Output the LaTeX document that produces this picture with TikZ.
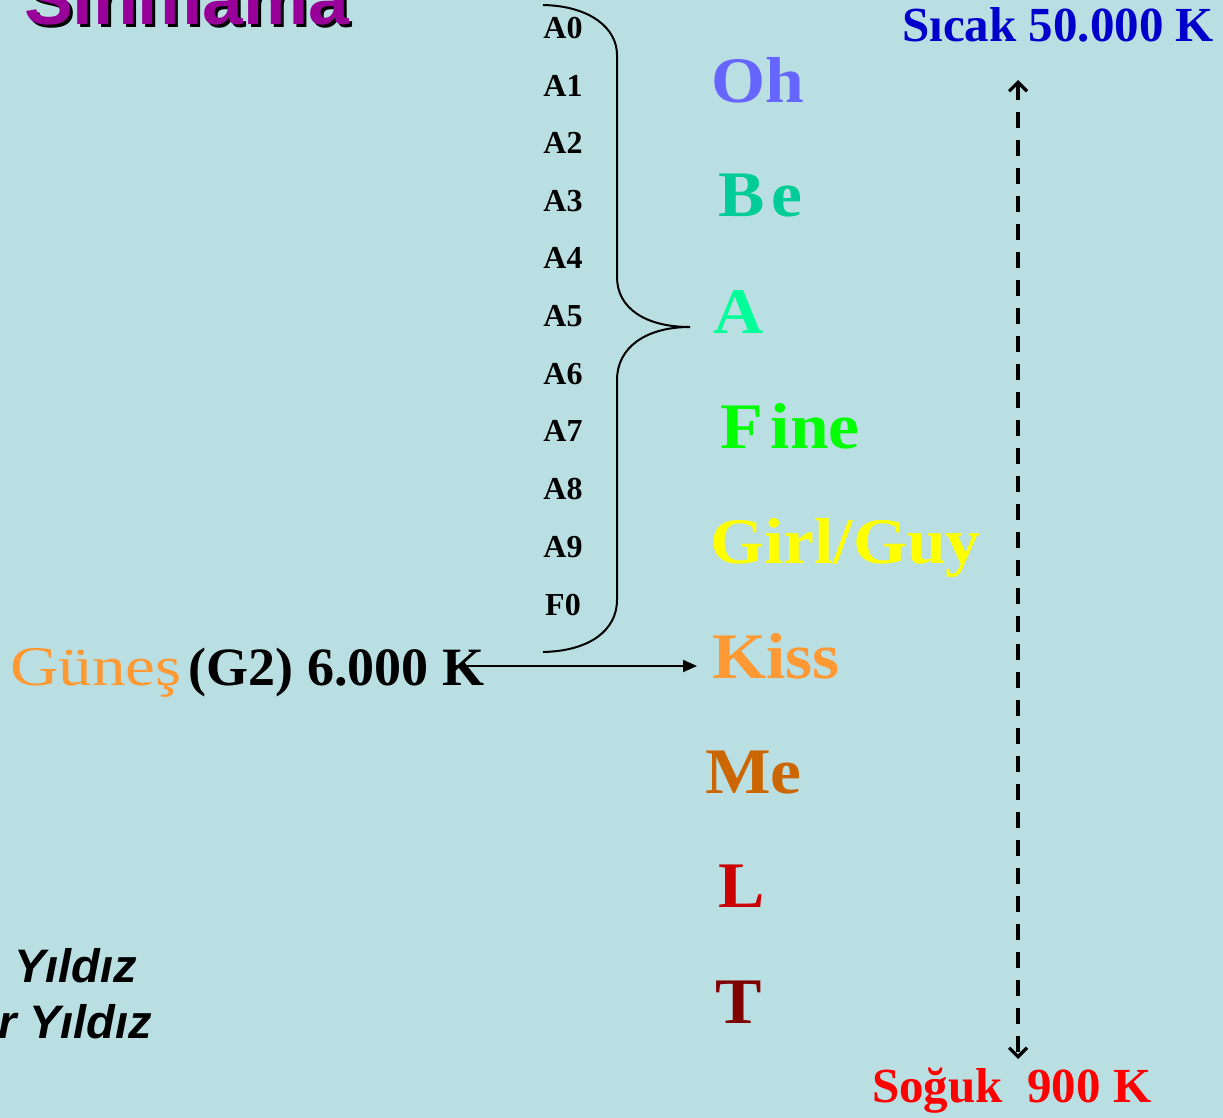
\documentclass[tikz,border=0pt]{standalone}
\usepackage{fontspec}
\setmainfont{Liberation Serif}
\newfontfamily\arialf[Ligatures=NoCommon]{Liberation Sans}
\newfontfamily\widef[FakeStretch=1.07]{Liberation Serif}
\newfontfamily\sunf[FakeStretch=1.2]{Liberation Serif}
\usetikzlibrary{arrows.meta}
\definecolor{bg}{HTML}{B9DFE3}
\definecolor{titlec}{HTML}{990099}
\definecolor{ohc}{HTML}{6666FF}
\definecolor{bec}{HTML}{00CC99}
\definecolor{ac}{HTML}{00FF99}
\definecolor{finec}{HTML}{00FF00}
\definecolor{girlc}{HTML}{FFFF00}
\definecolor{kissc}{HTML}{FF9933}
\definecolor{mec}{HTML}{CC6600}
\definecolor{lc}{HTML}{CC0000}
\definecolor{tc}{HTML}{800000}
\definecolor{hotc}{HTML}{0000CC}
\definecolor{coldc}{HTML}{FF0000}
\tikzset{
  big/.style={inner sep=0pt, anchor=base west, font=\widef\bfseries\fontsize{65}{70}\selectfont},
  alabel/.style={inner sep=0pt, anchor=center, font=\bfseries\fontsize{32}{36}\selectfont},
  temp/.style={inner sep=0pt, anchor=base west, font=\bfseries\fontsize{49}{52}\selectfont},
  italbl/.style={inner sep=0pt, anchor=base west, font=\arialf\bfseries\itshape\fontsize{47}{52}\selectfont},
  titlefont/.style={inner sep=0pt, anchor=base west, font=\arialf\bfseries\fontsize{73}{80}\selectfont},
  bracepath/.style={line width=2pt},
  scale arrow/.style={line width=3.2pt, dash pattern=on 16pt off 12pt, {Straight Barb[length=9pt,width=18pt]}-{Straight Barb[length=9pt,width=18pt]}},
  sun arrow/.style={line width=2pt, -{Triangle[length=14pt,width=12pt]}},
}
\begin{document}
\begin{tikzpicture}[x=1pt,y=-1pt]
\useasboundingbox (0,0) rectangle (1223,1118);
\fill[bg] (0,0) rectangle (1223,1118);

% title (cut off at top), with its drop shadow
\node[titlefont, text=titlec] (title) at (24,25)
  {\makebox[0pt][l]{\hspace{3pt}\raisebox{-3pt}{\textcolor{black}{Sınıflama}}}Sınıflama};

% bottom-left labels
\node[italbl] (yildiz1) at (14,982) {Yıldız};
\node[italbl] (yildiz2) at (-2,1038) {r Yıldız};

% subclass labels
\node[alabel] (a0) at (563,28) {A0};
\node[alabel] (a1) at (563,86) {A1};
\node[alabel] (a2) at (563,143) {A2};
\node[alabel] (a3) at (563,201) {A3};
\node[alabel] (a4) at (563,258) {A4};
\node[alabel] (a5) at (563,316) {A5};
\node[alabel] (a6) at (563,374) {A6};
\node[alabel] (a7) at (563,431) {A7};
\node[alabel] (a8) at (563,489) {A8};
\node[alabel] (a9) at (563,547) {A9};
\node[alabel] (f0) at (563,605) {F0};

% brace
\draw[bracepath] (543,5) .. controls (590,6) and (617,28) .. (617,55)
  -- (617,277) .. controls (617,308) and (645,327) .. (690,327)
  .. controls (645,327) and (617,348) .. (617,380)
  -- (617,600) .. controls (617,630) and (590,651) .. (543,652);

% spectral classes
\node[big, text=ohc] (oh) at (711,103) {Oh};
\node[big, text=bec] (be) at (718,217) {B\hspace{7pt}e};
\node[big, text=ac] (aa) at (713,333) {A};
\node[big, text=finec] (fine) at (720,448) {F\hspace{8pt}ine};
\node[big, text=girlc] (girl) at (710,563) {Girl/Guy};
\node[big, text=kissc] (kiss) at (712,678) {Kiss};
\node[big, text=mec] (me) at (705,793) {Me};
\node[big, text=lc] (ll) at (718,907) {L};
\node[big, text=tc] (tt) at (715,1023) {T};

% temperatures
\node[temp, text=hotc] (sicak) at (902,42) {Sıcak 50.000 K};
\node[temp, text=coldc] (soguk) at (872,1102) {Soğuk\ \ 900 K};
\coordinate (hottip) at (1018,80);
\coordinate (coldtip) at (1018,1059);
\draw[scale arrow] (hottip) -- (coldtip);

% Sun
\node[inner sep=0pt, anchor=base west, font=\fontsize{54}{60}\selectfont] (gunes) at (10,685)
  {\textcolor{kissc}{\sunf\fontsize{56}{60}\selectfont Güneş}\hspace{7pt}\textbf{(G2) 6.000 K}};
\coordinate (sunstart) at (455,666);
\coordinate (kisstip) at (697,666);
\draw[sun arrow] (sunstart) -- (kisstip);
\end{tikzpicture}
\end{document}
